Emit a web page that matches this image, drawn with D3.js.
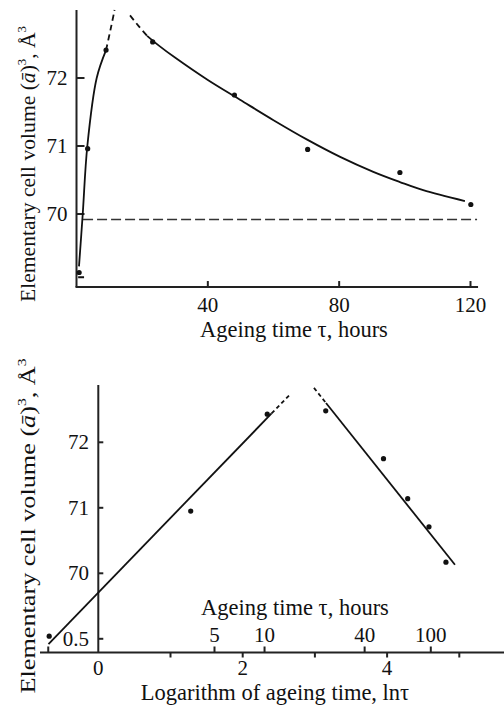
<!DOCTYPE html>
<html>
<head>
<meta charset="utf-8">
<script src="https://cdn.jsdelivr.net/npm/d3@7"></script>
<style>
  body { margin: 0; background: #fff; }
  text { font-family: "Liberation Serif", "Times New Roman", serif; fill: #111; }
  .axis-line { stroke: #222; stroke-width: 2; fill: none; }
  .curve { stroke: #111; stroke-width: 1.8; fill: none; }
</style>
</head>
<body>
<svg id="chart"></svg>
<script>
// ---- top panel: volume vs ageing time ----
const topTau = [0.8, 3.4, 9.0, 23.2, 48.1, 70.4, 98.5, 120.1];
const topVol = [69.14, 70.96, 72.41, 72.53, 71.75, 70.95, 70.61, 70.14];

const riseTau = [0.76, 1.9, 3.3, 6.15, 9.0];
const riseVol = [69.23, 70.0, 71.0, 72.0, 72.41];
const riseDashTau = [9.0, 10.4, 11.6];
const riseDashVol = [72.41, 72.72, 73.0];

const fallDashTau = [16.3, 19, 21.5];
const fallDashVol = [72.92, 72.76, 72.62];
const fallTau = [21.5, 25, 30, 40, 49.8, 60, 70.4, 80.3, 90.4, 98.5, 105.6, 118.3];
const fallVol = [72.62, 72.48, 72.30, 71.97, 71.68, 71.38, 71.09, 70.84, 70.62, 70.47, 70.35, 70.19];

const limitVol = 69.92;
const limitTau = [2, 122];

const topXTicks = [40, 80, 120];
const topYTicks = [70, 71, 72];

// ---- bottom panel: volume vs ln(tau) ----
const lnTau = [-0.68, 1.28, 2.34, 3.15, 3.95, 4.285, 4.58, 4.815];
const lnVol = [69.04, 70.95, 72.43, 72.48, 71.75, 71.14, 70.71, 70.17];

const riseLineX = [-0.69, 2.40];
const riseLineV = [68.92, 72.44];
const riseLineDashX = [2.40, 2.655];
const riseLineDashV = [72.44, 72.73];
const fallLineDashX = [2.987, 3.154];
const fallLineDashV = [72.83, 72.6];
const fallLineX = [3.154, 4.94];
const fallLineV = [72.6, 70.13];

const lnTicksBelow = [1, 2, 3, 4, 5];
const lnTickLabels = [0, 2, 4];
const hourTicks = [0.5, 5, 10, 40, 100];
const hourLabels = [5, 10, 40, 100];
const botYTicks = [69, 70, 71, 72];
const botYLabels = ["0.5", "70", "71", "72"];

const yTitle = "Elementary cell volume ";

const width = 504, height = 707;
const svg = d3.select("#chart").attr("width", width).attr("height", height);
svg.append("rect").attr("width", width).attr("height", height).attr("fill", "#fff");

const zip = (a, b) => a.map((v, i) => [v, b[i]]);

// y-axis title with superscripts
const addYTitle = (g, cx, cy, len) => {
  const t = g.append("text")
    .attr("transform", `translate(${cx},${cy}) rotate(-90)`)
    .attr("text-anchor", "middle")
    .attr("font-size", 22)
    .attr("textLength", len)
    .attr("lengthAdjust", "spacingAndGlyphs");
  t.append("tspan").text(yTitle + "(");
  t.append("tspan").attr("font-style", "italic").text("a\u0304");
  t.append("tspan").text(")");
  t.append("tspan").attr("font-size", 13).attr("dy", -9).text("3");
  t.append("tspan").attr("dy", 9).text(", Å");
  t.append("tspan").attr("font-size", 13).attr("dy", -9).text("3");
};

// ================= top panel =================
const x1 = d3.scaleLinear().domain([0, 120]).range([76.5, 470.5]);
const y1 = d3.scaleLinear().domain([70, 72]).range([214, 78]);
const gTop = svg.append("g");

const line1 = d3.line().x(d => x1(d[0])).y(d => y1(d[1])).curve(d3.curveCatmullRom);

// axes
gTop.append("line").attr("class", "axis-line")
  .attr("x1", x1(0)).attr("x2", x1(0)).attr("y1", y1(73)).attr("y2", y1(68.926));
gTop.append("line").attr("class", "axis-line")
  .attr("x1", x1(0) - 1).attr("x2", x1(122.3)).attr("y1", y1(68.926)).attr("y2", y1(68.926));

gTop.selectAll(".ytick").data(topYTicks).enter().append("line")
  .attr("class", "axis-line").attr("stroke-width", 1.6)
  .attr("x1", x1(0)).attr("x2", x1(0) + 8)
  .attr("y1", d => y1(d)).attr("y2", d => y1(d));
gTop.selectAll(".ylab").data(topYTicks).enter().append("text")
  .attr("x", x1(0) - 9).attr("y", d => y1(d) + 7)
  .attr("text-anchor", "end").attr("font-size", 21).text(d => d);

gTop.selectAll(".xtick").data(topXTicks).enter().append("line")
  .attr("class", "axis-line").attr("stroke-width", 1.6)
  .attr("x1", d => x1(d)).attr("x2", d => x1(d))
  .attr("y1", y1(68.926)).attr("y2", y1(68.926) - 6);
gTop.selectAll(".xlab").data(topXTicks).enter().append("text")
  .attr("x", d => x1(d)).attr("y", 311.5)
  .attr("text-anchor", "middle").attr("font-size", 21).text(d => d);

gTop.append("text").attr("x", 294).attr("y", 337)
  .attr("text-anchor", "middle").attr("font-size", 22.5).text("Ageing time τ, hours");

addYTitle(gTop, 35, 164, 276);

// limit line
gTop.append("line").attr("stroke", "#333").attr("stroke-width", 1.6)
  .attr("stroke-dasharray", "10,4")
  .attr("x1", x1(limitTau[0])).attr("x2", x1(limitTau[1]))
  .attr("y1", y1(limitVol)).attr("y2", y1(limitVol));

// curves
gTop.append("path").attr("class", "curve").attr("d", line1(zip(riseTau, riseVol)));
gTop.append("path").attr("class", "curve").attr("stroke-dasharray", "6,4")
  .attr("d", line1(zip(riseDashTau, riseDashVol)));
gTop.append("path").attr("class", "curve").attr("stroke-dasharray", "6,4")
  .attr("d", line1(zip(fallDashTau, fallDashVol)));
gTop.append("path").attr("class", "curve").attr("d", line1(zip(fallTau, fallVol)));

// small dash marker near origin
gTop.append("line").attr("stroke", "#111").attr("stroke-width", 2)
  .attr("x1", x1(0.5)).attr("x2", x1(2.3)).attr("y1", y1(69.07)).attr("y2", y1(69.07));

gTop.selectAll(".pt").data(zip(topTau, topVol)).enter().append("circle")
  .attr("cx", d => x1(d[0])).attr("cy", d => y1(d[1])).attr("r", 2.6).attr("fill", "#111");

// ================= bottom panel =================
const x2 = d3.scaleLinear().domain([0, 4]).range([98.3, 387.1]);
const y2 = d3.scaleLinear().domain([70, 72]).range([573.3, 442.3]);
const gBot = svg.append("g");
const line2 = d3.line().x(d => x2(d[0])).y(d => y2(d[1]));
const axisY = 652.5;

gBot.append("line").attr("class", "axis-line")
  .attr("x1", x2(0)).attr("x2", x2(0)).attr("y1", 385).attr("y2", axisY);
gBot.append("line").attr("class", "axis-line")
  .attr("x1", 40).attr("x2", 504).attr("y1", axisY).attr("y2", axisY);

gBot.selectAll(".ytick").data(botYTicks).enter().append("line")
  .attr("class", "axis-line").attr("stroke-width", 1.6)
  .attr("x1", x2(0)).attr("x2", x2(0) + 5)
  .attr("y1", d => y2(d)).attr("y2", d => y2(d));
gBot.selectAll(".ylab").data(botYTicks).enter().append("text")
  .attr("x", 89).attr("y", d => y2(d) + 7)
  .attr("text-anchor", "end").attr("font-size", 21).text((d, i) => botYLabels[i]);

gBot.selectAll(".lntick").data(lnTicksBelow).enter().append("line")
  .attr("class", "axis-line").attr("stroke-width", 1.6)
  .attr("x1", d => x2(d)).attr("x2", d => x2(d))
  .attr("y1", axisY).attr("y2", axisY + 5);
gBot.selectAll(".lnlab").data(lnTickLabels).enter().append("text")
  .attr("x", d => x2(d)).attr("y", 675)
  .attr("text-anchor", "middle").attr("font-size", 21).text(d => d);

gBot.selectAll(".htick").data(hourTicks).enter().append("line")
  .attr("class", "axis-line").attr("stroke-width", 1.6)
  .attr("x1", d => x2(Math.log(d))).attr("x2", d => x2(Math.log(d)))
  .attr("y1", axisY).attr("y2", axisY - 6);
gBot.selectAll(".hlab").data(hourLabels).enter().append("text")
  .attr("x", d => x2(Math.log(d))).attr("y", 642)
  .attr("text-anchor", "middle").attr("font-size", 21).text(d => d);

gBot.append("text").attr("x", 295).attr("y", 615)
  .attr("text-anchor", "middle").attr("font-size", 22.5).text("Ageing time τ, hours");
gBot.append("text").attr("x", 275).attr("y", 699.5)
  .attr("text-anchor", "middle").attr("font-size", 22.5).text("Logarithm of ageing time, lnτ");

addYTitle(gBot, 35, 526, 335);

gBot.append("path").attr("class", "curve").attr("d", line2(zip(riseLineX, riseLineV)));
gBot.append("path").attr("class", "curve").attr("stroke-dasharray", "4,3")
  .attr("d", line2(zip(riseLineDashX, riseLineDashV)));
gBot.append("path").attr("class", "curve").attr("stroke-dasharray", "4,3")
  .attr("d", line2(zip(fallLineDashX, fallLineDashV)));
gBot.append("path").attr("class", "curve").attr("d", line2(zip(fallLineX, fallLineV)));

gBot.selectAll(".pt").data(zip(lnTau, lnVol)).enter().append("circle")
  .attr("cx", d => x2(d[0])).attr("cy", d => y2(d[1])).attr("r", 2.6).attr("fill", "#111");
</script>
</body>
</html>
